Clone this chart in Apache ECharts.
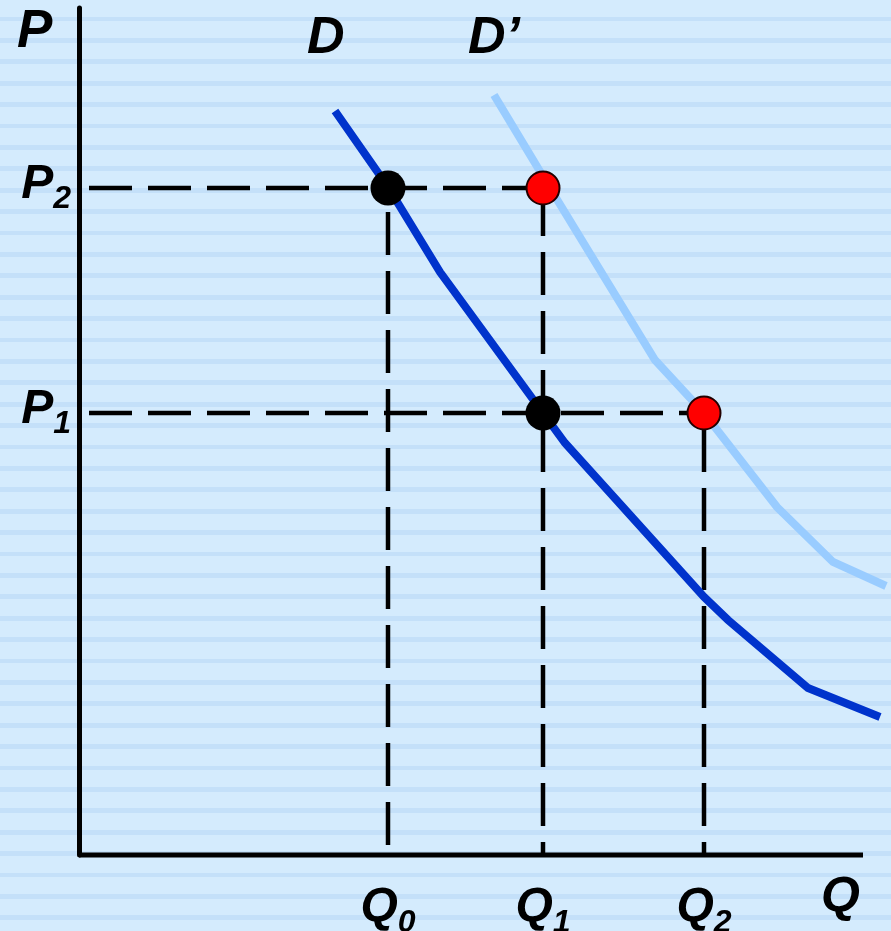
<!DOCTYPE html>
<html>
<head>
<meta charset="utf-8">
<script src="https://cdn.jsdelivr.net/npm/echarts@6/dist/echarts.min.js"></script>
<style>
html,body{margin:0;padding:0;}
#chart{width:891px;height:931px;
background:repeating-linear-gradient(180deg,#d4ebfd 0px,#d4ebfd 16.6px,#c4e0f9 16.6px,#c4e0f9 21.4px);}
</style>
</head>
<body>
<div id="chart"></div>
<script>
// Tick positions and labels
const qTicks = [309, 464, 625];
const qSubs = ['0', '1', '2'];
const pTicks = [442, 667];
const pSubs = ['1', '2'];
// Axis extents (Q axis drawn up to qAxisEnd, view extends to qViewMax)
const qAxisEnd = 784;
const qViewMax = 812;
const pMax = 847;
// Demand curves (Q, P)
const dCurve = [[256,744],[309,668],[361,583],[464,442],[486,412],[625,258],[649,235],[729,167],[801,138]];
const dPrimeCurve = [[415,760],[471,667],[521,585],[576,495],[625,442],[698,348],[754,293],[807,269]];
// Equilibrium points
const blackPts = [[309,667],[464,442]];
const redPts = [[464,667],[625,442]];

const FONT = 'Liberation Sans, Arial, sans-serif';
const chart = echarts.init(document.getElementById('chart'), null, {renderer:'canvas'});

function dashed(points, offset){
  return {type:'line', data:points, symbol:'none', silent:true, z:2,
    lineStyle:{color:'#000', width:4.5, type:[43,16], dashOffset:offset, cap:'butt'}};
}
const labelRich = {
  m:{fontSize:48, fontWeight:'bold', fontStyle:'italic', fontFamily:FONT, color:'#000', lineHeight:48, verticalAlign:'top'},
  s:{fontSize:32, fontWeight:'bold', fontStyle:'italic', fontFamily:FONT, color:'#000', lineHeight:55, verticalAlign:'bottom'}
};

chart.setOption({
  backgroundColor:'transparent',
  animation:false,
  grid:{left:79, right:0, top:8, bottom:76, containLabel:false, outerBoundsMode:'none'},
  xAxis:{type:'value', min:0, max:qViewMax, splitLine:{show:false},
    axisLine:{show:false},
    axisTick:{show:false},
    axisLabel:{show:true, customValues:qTicks, margin:29,
      formatter:function(v){ const i=qTicks.indexOf(v); return '{m|Q}{s|'+qSubs[i]+'}'; },
      rich:labelRich}
  },
  yAxis:{type:'value', min:0, max:pMax, splitLine:{show:false},
    axisLine:{show:true, lineStyle:{color:'#000', width:5}},
    axisTick:{show:false},
    axisLabel:{show:true, customValues:pTicks, margin:8,
      formatter:function(v){ const i=pTicks.indexOf(v); return '{m|P}{s|'+pSubs[i]+'}'; },
      rich:labelRich}
  },
  graphic:[
    {type:'text', style:{x:17, y:32, text:'P', font:'bold italic 53px '+FONT, fill:'#000', verticalAlign:'middle'}},
    {type:'text', style:{x:307, y:39, text:'D', font:'bold italic 52px '+FONT, fill:'#000', verticalAlign:'middle'}},
    {type:'text', style:{x:468, y:39, text:'D\u2019', font:'bold italic 52px '+FONT, fill:'#000', verticalAlign:'middle'}},
    {type:'text', style:{x:821, y:898, text:'Q', font:'bold italic 50px '+FONT, fill:'#000', verticalAlign:'middle'}}
  ],
  series:[
    {type:'line', data:[[0,0],[qAxisEnd,0]], symbol:'none', silent:true, z:6, clip:false,
      lineStyle:{color:'#000', width:5, cap:'butt'}},
    dashed([[0,pTicks[1]],[redPts[0][0],pTicks[1]]], 49),
    dashed([[0,pTicks[0]],[redPts[1][0],pTicks[0]]], 49),
    dashed([[qTicks[0],0],[qTicks[0],pTicks[1]]], 49),
    dashed([[qTicks[1],0],[qTicks[1],pTicks[1]]], 30),
    dashed([[qTicks[2],0],[qTicks[2],pTicks[0]]], 30),
    {type:'line', data:dPrimeCurve, symbol:'none', clip:false, z:3, smooth:false,
      lineStyle:{color:'#99ccff', width:8, join:'miter'}},
    {type:'line', data:dCurve, symbol:'none', clip:false, z:4, smooth:false,
      lineStyle:{color:'#0033cc', width:8, join:'miter'}},
    {type:'scatter', data:blackPts, symbol:'circle', symbolSize:35, z:5,
      itemStyle:{color:'#000', opacity:1}},
    {type:'scatter', data:redPts, symbol:'circle', symbolSize:33, z:5,
      itemStyle:{color:'#ff0000', borderColor:'#220000', borderWidth:2, opacity:1}}
  ]
});
</script>
</body>
</html>
